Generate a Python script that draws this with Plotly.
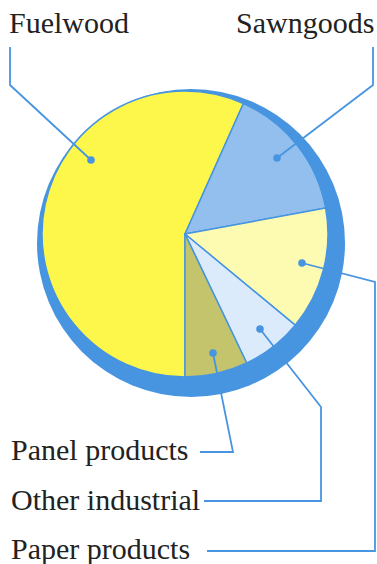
import plotly.graph_objects as go

W, H = 377, 564

# ---- data ----
categories = ["Fuelwood", "Sawngoods", "Paper products", "Other industrial", "Panel products"]
shares = [56.7, 15.4, 13.9, 6.9, 7.1]
slice_colors = ["#fdf74b", "#92bfee", "#fdfbb2", "#dcebfb", "#c3c46b"]

BLUE = "#4795e0"

def px_x(x):
    return x / W

def px_y(y):
    return 1 - y / H

fig = go.Figure()

# shadow / rim disk
fig.add_trace(go.Pie(
    values=[1], labels=["rim"], marker=dict(colors=[BLUE], line=dict(width=0)),
    textinfo="none", hoverinfo="skip", showlegend=False, sort=False,
    domain=dict(x=[px_x(37), px_x(345)], y=[px_y(397), px_y(89)]),
))

# pie face
fig.add_trace(go.Pie(
    values=shares, labels=categories,
    marker=dict(colors=slice_colors, line=dict(color=BLUE, width=1.5)),
    textinfo="none", sort=False, direction="clockwise", rotation=180,
    showlegend=False,
    domain=dict(x=[px_x(42), px_x(328)], y=[px_y(377), px_y(91)]),
))

# leader lines (pixel coordinates): dot -> ... -> label end
leaders = {
    "Fuelwood": [(91, 160), (10, 85), (10, 47)],
    "Sawngoods": [(277, 158), (373, 85), (373, 47)],
    "Paper products": [(302, 263), (375, 282), (375, 551), (207, 551)],
    "Other industrial": [(260, 329), (321, 407), (321, 501), (204, 501)],
    "Panel products": [(213, 353), (233, 452), (200, 452)],
}

shapes = []
for name, pts in leaders.items():
    path = "M " + " L ".join(f"{px_x(x):.5f},{px_y(y):.5f}" for x, y in pts)
    shapes.append(dict(type="path", xref="paper", yref="paper", path=path,
                       line=dict(color=BLUE, width=1.8), layer="above"))
    dx, dy = pts[0]
    r = 3.8
    shapes.append(dict(type="circle", xref="paper", yref="paper",
                       x0=px_x(dx - r), x1=px_x(dx + r), y0=px_y(dy + r), y1=px_y(dy - r),
                       fillcolor=BLUE, line=dict(width=0), layer="above"))

labels_pos = {
    "Fuelwood": (7, 23, "left"),
    "Sawngoods": (376, 23, "right"),
    "Panel products": (9, 449, "left"),
    "Other industrial": (9, 499, "left"),
    "Paper products": (9, 548, "left"),
}
annotations = []
for name, (x, y, anc) in labels_pos.items():
    annotations.append(dict(text=name, x=px_x(x), y=px_y(y), xref="paper", yref="paper",
                            xanchor=anc, yanchor="middle", showarrow=False,
                            font=dict(family="Liberation Serif", size=30, color="#222222")))

fig.update_layout(
    width=W, height=H, margin=dict(l=0, r=0, t=0, b=0),
    paper_bgcolor="white", plot_bgcolor="white",
    shapes=shapes, annotations=annotations,
)

fig.write_html("out.html", config={"displayModeBar": False},
               post_script="document.body.style.margin='0';document.body.style.overflow='hidden';")
